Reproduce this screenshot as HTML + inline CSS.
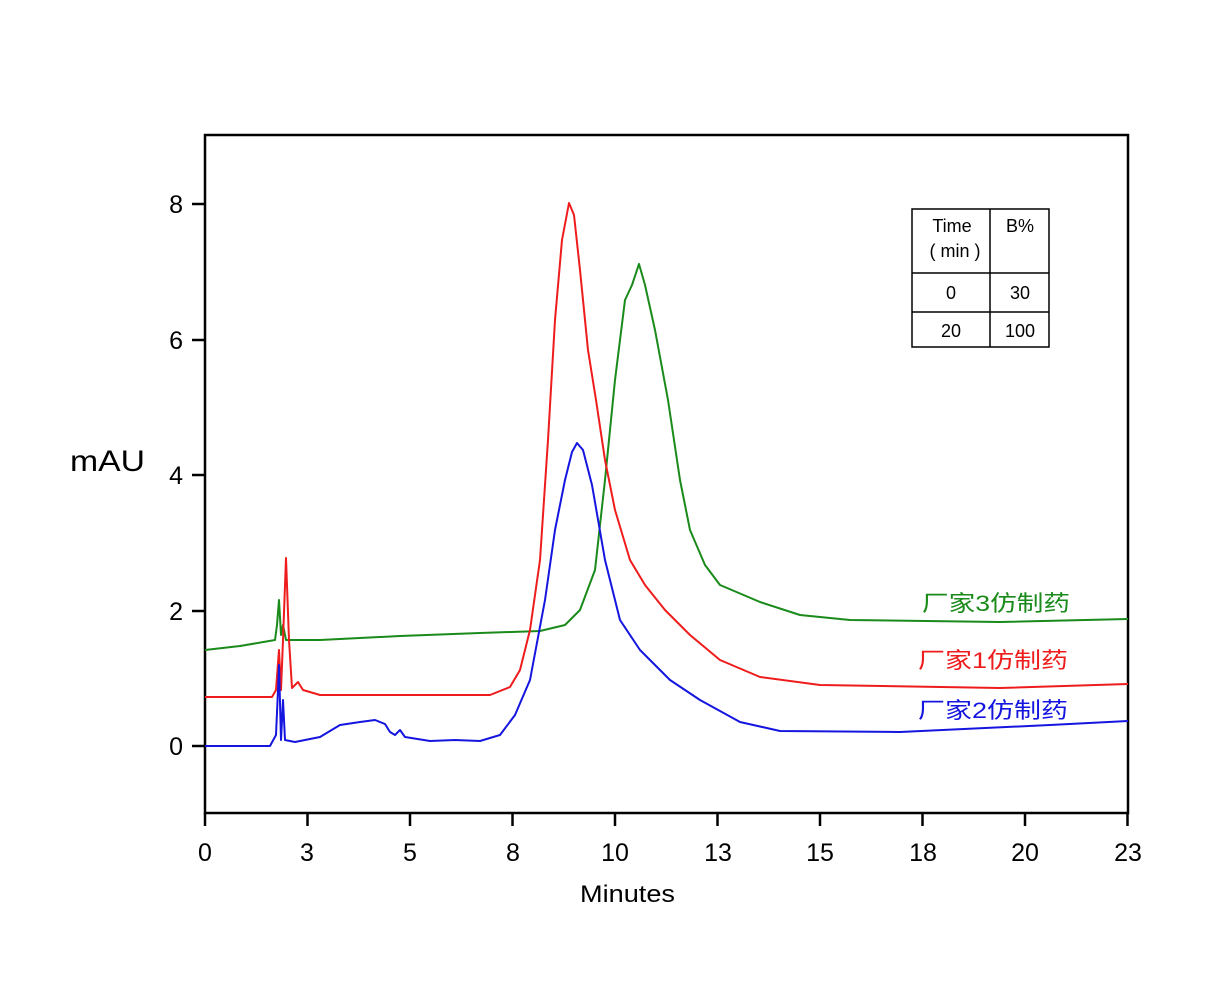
<!DOCTYPE html>
<html><head><meta charset="utf-8"><style>
body{margin:0;background:#fff}
svg text{font-family:"Liberation Sans","Noto Sans CJK SC",sans-serif}
</style></head><body>
<svg width="1217" height="980" viewBox="0 0 1217 980" xmlns="http://www.w3.org/2000/svg">
<rect x="0" y="0" width="1217" height="980" fill="#fff"/>
<rect x="205" y="135" width="923" height="678" fill="none" stroke="#000" stroke-width="2.5"/>
<g stroke="#000" stroke-width="2.5">
<line x1="205" y1="813" x2="205" y2="826"/><line x1="307.5" y1="813" x2="307.5" y2="826"/><line x1="410" y1="813" x2="410" y2="826"/><line x1="512.5" y1="813" x2="512.5" y2="826"/><line x1="615" y1="813" x2="615" y2="826"/><line x1="717.5" y1="813" x2="717.5" y2="826"/><line x1="820" y1="813" x2="820" y2="826"/><line x1="922.5" y1="813" x2="922.5" y2="826"/><line x1="1025" y1="813" x2="1025" y2="826"/><line x1="1127.5" y1="813" x2="1127.5" y2="826"/>
<line x1="192" y1="746" x2="205" y2="746"/><line x1="192" y1="611" x2="205" y2="611"/><line x1="192" y1="475" x2="205" y2="475"/><line x1="192" y1="340" x2="205" y2="340"/><line x1="192" y1="204" x2="205" y2="204"/>
</g>
<g font-size="25" text-anchor="middle" fill="#000">
<text x="205" y="861">0</text><text x="307" y="861">3</text><text x="410" y="861">5</text><text x="513" y="861">8</text><text x="615" y="861">10</text><text x="718" y="861">13</text><text x="820" y="861">15</text><text x="923" y="861">18</text><text x="1025" y="861">20</text><text x="1128" y="861">23</text>
</g>
<g font-size="25" text-anchor="end" fill="#000">
<text x="183" y="755">0</text><text x="183" y="620">2</text><text x="183" y="484">4</text><text x="183" y="349">6</text><text x="183" y="213">8</text>
</g>
<text x="70" y="471" font-size="30" textLength="75" lengthAdjust="spacingAndGlyphs">mAU</text>
<text x="580" y="902" font-size="24" textLength="95" lengthAdjust="spacingAndGlyphs">Minutes</text>
<g fill="none" stroke-width="2" stroke-linejoin="round">
<polyline stroke="#1a8a1a" points="205,650 240,646 275,640 277,625 279,600 281,635 283,625 286,640 320,640 400,636 480,633 540,631 565,625 580,610 595,570 605,480 615,380 625,300 632,285 639,264 645,285 655,330 668,400 680,480 690,530 705,565 720,585 760,602 800,615 850,620 1000,622 1128,619"/>
<polyline stroke="#ee1c1c" points="205,697 272,697 276,690 279,650 281,690 283,640 286,558 289,640 292,688 298,682 303,690 320,695 490,695 510,687 520,670 530,630 540,560 548,440 555,320 562,240 569,203 574,215 580,270 588,350 596,400 605,460 615,510 630,560 645,585 665,610 690,635 720,660 760,677 820,685 1000,688 1128,684"/>
<polyline stroke="#1515e0" points="205,746 270,746 276,735 278,690 279,665 281,740 283,700 285,740 295,742 320,737 340,725 360,722 375,720 385,724 390,732 395,735 400,730 405,737 430,741 455,740 480,741 500,735 515,715 530,680 545,600 555,530 565,480 572,452 577,443 583,450 592,485 605,560 620,620 640,650 670,680 700,700 740,722 780,731 900,732 1050,725 1128,721"/>
</g>
<g font-size="22">
<text x="922" y="611" fill="#1a8a1a" textLength="148" lengthAdjust="spacingAndGlyphs">厂家3仿制药</text>
<text x="918" y="668" fill="#ee1c1c" textLength="150" lengthAdjust="spacingAndGlyphs">厂家1仿制药</text>
<text x="918" y="718" fill="#1515e0" textLength="150" lengthAdjust="spacingAndGlyphs">厂家2仿制药</text>
</g>
<g stroke="#000" stroke-width="1.5" fill="none">
<rect x="912" y="209" width="137" height="138"/>
<line x1="990" y1="209" x2="990" y2="347"/>
<line x1="912" y1="273" x2="1049" y2="273"/>
<line x1="912" y1="312" x2="1049" y2="312"/>
</g>
<g font-size="18" text-anchor="middle">
<text x="952" y="232">Time</text><text x="955" y="257">( min )</text><text x="1020" y="232">B%</text>
<text x="951" y="299">0</text><text x="1020" y="299">30</text>
<text x="951" y="337">20</text><text x="1020" y="337">100</text>
</g>
</svg>
</body></html>
